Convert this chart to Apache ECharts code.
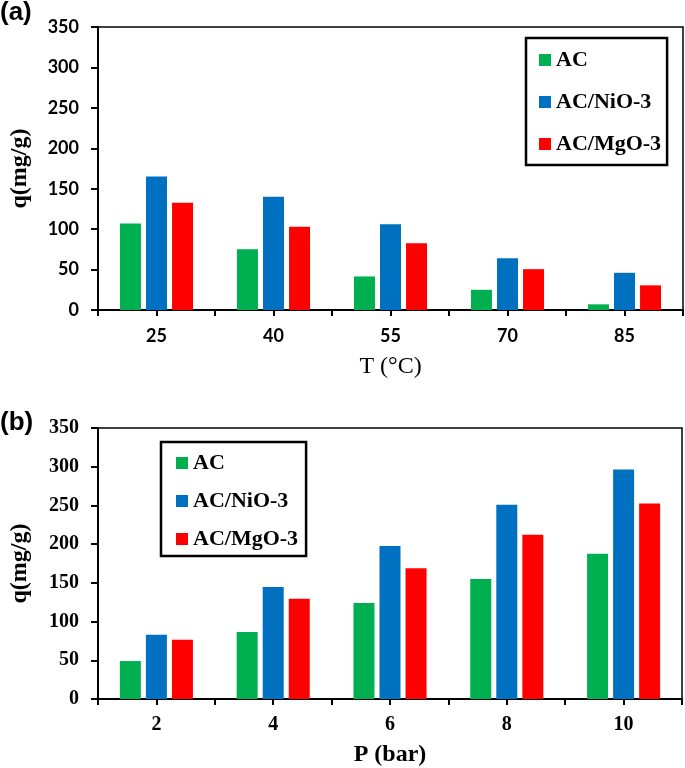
<!DOCTYPE html>
<html><head><meta charset="utf-8">
<script src="https://cdn.jsdelivr.net/npm/echarts@6/dist/echarts.min.js"></script>
<style>html,body{margin:0;padding:0;background:#fff}#c{width:685px;height:768px}</style>
</head><body><div id="c"></div>
<script>
var seriesNames = ['AC', 'AC/NiO-3', 'AC/MgO-3'];
var colors = ['#00B050', '#0070C0', '#FF0000'];
var tempCats = ['25', '40', '55', '70', '85'];
var tempAC = [107, 75, 41.5, 25, 7];
var tempNiO = [165, 140, 106, 64, 46];
var tempMgO = [132.5, 103, 82.5, 50.5, 30.5];
var presCats = ['2', '4', '6', '8', '10'];
var presAC = [49, 86.5, 124, 155, 187.5];
var presNiO = [83, 144.5, 197.5, 251, 296.5];
var presMgO = [76.5, 129.5, 169, 212, 252.5];

var chart = echarts.init(document.getElementById('c'));
var serif = '"Times New Roman","Liberation Serif",serif';
var sans = 'Lato,"Open Sans",sans-serif';

function xAxes(cats, gi, labelFont, labelSize, labelMargin, name, nameBold, nameGap) {
  return [{
    type: 'category', gridIndex: gi, data: cats, position: 'bottom',
    axisLine: {lineStyle: {color: '#000', width: 2}},
    axisTick: {show: true, length: 6, lineStyle: {color: '#000', width: 2}},
    axisLabel: {color: '#000', fontFamily: labelFont, fontWeight: 'bold', fontSize: labelSize, margin: labelMargin},
    name: name, nameLocation: 'middle', nameGap: nameGap,
    nameTextStyle: {color: '#000', fontFamily: serif, fontWeight: nameBold, fontSize: 24}
  }, {
    type: 'category', gridIndex: gi, data: cats, position: 'bottom',
    axisLine: {show: false},
    axisTick: {show: true, alignWithLabel: true, length: 6, lineStyle: {color: '#000', width: 2}},
    axisLabel: {show: false}
  }];
}
function yAxis(gi, labelFont, labelSize) {
  return {
    type: 'value', gridIndex: gi, min: 0, max: 350, interval: 50,
    axisLine: {show: true, lineStyle: {color: '#000', width: 2}},
    axisTick: {show: true, length: 7, lineStyle: {color: '#000', width: 2}},
    splitLine: {show: false},
    axisLabel: {color: '#000', fontFamily: labelFont, fontWeight: 'bold', fontSize: labelSize, margin: 19},
    name: 'q(mg/g)', nameLocation: 'middle', nameGap: 66, nameRotate: 90,
    nameTextStyle: {color: '#000', fontFamily: serif, fontWeight: 'bold', fontSize: 24}
  };
}
function bars(gi, xi, yi, dataArr) {
  return dataArr.map(function (d, i) {
    return {
      name: seriesNames[i], type: 'bar', xAxisIndex: xi, yAxisIndex: yi,
      data: d, barWidth: 21, barGap: '24%',
      itemStyle: {color: colors[i]}
    };
  });
}
function legend(left, top, padding, gap) {
  return {
    orient: 'vertical', left: left, top: top, padding: padding, itemGap: gap,
    itemWidth: 12, itemHeight: 12, icon: 'rect',
    borderColor: '#000', borderWidth: 2.5,
    data: seriesNames,
    textStyle: {color: '#000', fontFamily: serif, fontWeight: 'bold', fontSize: 22, lineHeight: 22}
  };
}

var option = {
  animation: false,
  title: [
    {text: '(a)', left: 0, top: 0, padding: 0, textStyle: {fontFamily: '"Liberation Sans",Arial,sans-serif', fontWeight: 'bold', fontSize: 26, color: '#000'}},
    {text: '(b)', left: 0, top: 410, padding: 0, textStyle: {fontFamily: '"Liberation Sans",Arial,sans-serif', fontWeight: 'bold', fontSize: 26, color: '#000'}}
  ],
  grid: [
    {left: 97, top: 27, width: 586, height: 283, show: true, borderColor: '#000', borderWidth: 1.5},
    {left: 97, top: 428, width: 585, height: 272, show: true, borderColor: '#000', borderWidth: 1.5}
  ],
  legend: [
    legend(526, 38, [11, 6, 10, 13], 20),
    legend(161, 442, [10, 8, 6, 15], 16)
  ],
  xAxis: xAxes(tempCats, 0, sans, 18, 17, 'T (°C)', 'normal', 45)
    .concat(xAxes(presCats, 1, serif, 20, 16, 'P (bar)', 'bold', 44)),
  yAxis: [yAxis(0, sans, 18), yAxis(1, serif, 20)],
  series: bars(0, 0, 0, [tempAC, tempNiO, tempMgO]).concat(bars(1, 2, 1, [presAC, presNiO, presMgO]))
};
chart.setOption(option);
</script></body></html>
